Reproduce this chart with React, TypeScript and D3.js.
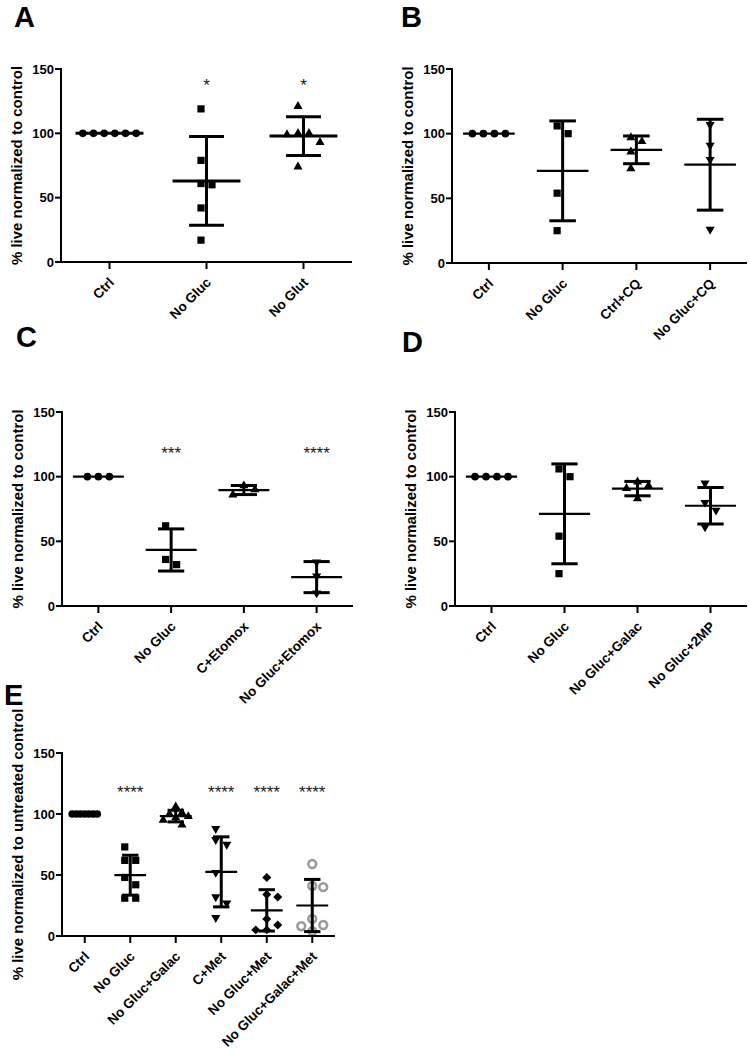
import React from "react";
import * as d3 from "d3";

// ---------- DATA ----------
const aCats = ["Ctrl", "No Gluc", "No Glut"];
const aCtrl = [100, 100, 100, 100, 100, 100];
const aNoGluc = [119, 79, 61, 60, 42, 17];
const aNoGlut = [121, 100, 99, 100, 93, 74];
const aStars = ["", "*", "*"];

const bCats = ["Ctrl", "No Gluc", "Ctrl+CQ", "No Gluc+CQ"];
const bCtrl = [100, 100, 100, 100];
const bNoGluc = [106, 100, 54, 25];
const bCtrlCQ = [97, 94, 86, 73];
const bNoGlucCQ = [107, 91, 80, 26];
const bStars = ["", "", "", ""];

const cCats = ["Ctrl", "No Gluc", "C+Etomox", "No Gluc+Etomox"];
const cCtrl = [100, 100, 100];
const cNoGluc = [62, 36, 32];
const cCEtomox = [93, 90, 86];
const cNoGlucEtomox = [34, 23, 10];
const cStars = ["", "***", "", "****"];

const dCats = ["Ctrl", "No Gluc", "No Gluc+Galac", "No Gluc+2MP"];
const dCtrl = [100, 100, 100, 100];
const dNoGluc = [106, 100, 54, 25];
const dNoGlucGalac = [96, 93, 91, 83];
const dNoGluc2MP = [95, 80, 74, 61];
const dStars = ["", "", "", ""];

const eCats = ["Ctrl", "No Gluc", "No Gluc+Galac", "C+Met", "No Gluc+Met", "No Gluc+Galac+Met"];
const eCtrl = [100, 100, 100, 100, 100, 100, 100];
const eNoGluc = [73, 62, 62, 48, 42, 31, 31];
const eNoGlucGalac = [106, 101, 100, 98, 97, 95, 91];
const eCMet = [88, 79, 75, 52, 32, 27, 15];
const eNoGlucMet = [48, 34, 32, 14, 9, 5, 5];
const eNoGlucGalacMet = [59, 41, 40, 14, 9, 8, 4];
const eStars = ["", "****", "", "****", "****", "****"];

const yTicks = [0, 50, 100, 150];

// ---------- LAYOUT ----------
const FONT = "Arial, 'Liberation Sans', Helvetica, sans-serif";
const GREY = "#9a9a9a";

type Kind = "circle" | "square" | "triangle" | "triangleDown" | "diamond" | "openCircle";

interface Panel {
  letter: string;
  lx: number;
  ly: number;
  cats: string[];
  groups: number[][];
  kinds: Kind[];
  stars: string[];
  starVal: number;
  x0: number;
  x1: number;
  yTop: number;
  yBottom: number;
  ylabel: string;
  meanW: number;
}

const panels: Panel[] = [
  {
    letter: "A", lx: 14, ly: 27, cats: aCats, groups: [aCtrl, aNoGluc, aNoGlut],
    kinds: ["circle", "square", "triangle"], stars: aStars, starVal: 140,
    x0: 61, x1: 352, yTop: 69, yBottom: 262, ylabel: "% live normalized to control", meanW: 3,
  },
  {
    letter: "B", lx: 401, ly: 27, cats: bCats, groups: [bCtrl, bNoGluc, bCtrlCQ, bNoGlucCQ],
    kinds: ["circle", "square", "triangle", "triangleDown"], stars: bStars, starVal: 140,
    x0: 452, x1: 747, yTop: 69, yBottom: 263, ylabel: "% live normalized to control", meanW: 2.2,
  },
  {
    letter: "C", lx: 16, ly: 347, cats: cCats, groups: [cCtrl, cNoGluc, cCEtomox, cNoGlucEtomox],
    kinds: ["circle", "square", "triangle", "triangleDown"], stars: cStars, starVal: 121,
    x0: 62, x1: 353, yTop: 412, yBottom: 606, ylabel: "% live normalized to control", meanW: 2.2,
  },
  {
    letter: "D", lx: 402, ly: 352, cats: dCats, groups: [dCtrl, dNoGluc, dNoGlucGalac, dNoGluc2MP],
    kinds: ["circle", "square", "triangle", "triangleDown"], stars: dStars, starVal: 121,
    x0: 455, x1: 747, yTop: 412, yBottom: 606, ylabel: "% live normalized to control", meanW: 2.2,
  },
  {
    letter: "E", lx: 4, ly: 705, cats: eCats,
    groups: [eCtrl, eNoGluc, eNoGlucGalac, eCMet, eNoGlucMet, eNoGlucGalacMet],
    kinds: ["circle", "square", "triangle", "triangleDown", "diamond", "openCircle"], stars: eStars, starVal: 121,
    x0: 62, x1: 335, yTop: 753, yBottom: 936, ylabel: "% live normalized to untreated control", meanW: 2.2,
  },
];

function markerD(kind: Kind): string {
  switch (kind) {
    case "circle": return d3.symbol(d3.symbolCircle, 46)() as string;
    case "square": return d3.symbol(d3.symbolSquare, 52)() as string;
    case "triangle": return d3.symbol(d3.symbolTriangle, 36)() as string;
    case "triangleDown": return d3.symbol(d3.symbolTriangle, 36)() as string;
    case "diamond": return d3.symbol(d3.symbolSquare, 40)() as string;
    case "openCircle": return d3.symbol(d3.symbolCircle, 48)() as string;
  }
}

function swarm(values: number[], y: (v: number) => number, maxSpan: number): number[] {
  const step = 11;
  const minDist = 10.5;
  const order = values.map((_, i) => i).sort((a, b) => values[b] - values[a]);
  const cands = [0];
  for (let k = 1; k < 20; k++) cands.push(k * step, -k * step);
  const off = new Array(values.length).fill(0);
  const placed: { x: number; y: number }[] = [];
  for (const i of order) {
    const py = y(values[i]);
    for (const c of cands) {
      if (placed.every((p) => Math.hypot(p.x - c, p.y - py) >= minDist)) {
        off[i] = c;
        placed.push({ x: c, y: py });
        break;
      }
    }
  }
  const mn = d3.min(off) as number;
  const mx = d3.max(off) as number;
  const shift = -(mn + mx) / 2;
  const span = mx - mn;
  const s = span > maxSpan ? maxSpan / span : 1;
  return off.map((o) => (o + shift) * s);
}

function PanelView({ p }: { p: Panel }) {
  const x = d3.scalePoint<string>().domain(p.cats).range([p.x0, p.x1]).padding(0.5);
  const y = d3.scaleLinear().domain([0, 150]).range([p.yBottom, p.yTop]);
  const step = x.step();
  const meanHalf = step * 0.35;
  const capHalf = step * 0.18;
  const ymid = (p.yTop + p.yBottom) / 2;

  return (
    <g>
      <text x={p.lx} y={p.ly} fontFamily={FONT} fontWeight="bold" fontSize={29} fill="#000">
        {p.letter}
      </text>

      {/* points */}
      {p.groups.map((vals, gi) => {
        const cx = x(p.cats[gi]) as number;
        const offs = swarm(vals, y, step * 0.55);
        const kind = p.kinds[gi];
        const dPath = markerD(kind);
        return (
          <g key={"pts" + gi}>
            {vals.map((v, i) => {
              const rot = kind === "triangleDown" ? " rotate(180)" : kind === "diamond" ? " rotate(45)" : "";
              return (
                <path
                  key={i}
                  d={dPath}
                  transform={`translate(${cx + offs[i]},${y(v)})${rot}`}
                  fill={kind === "openCircle" ? "none" : "#000"}
                  stroke={kind === "openCircle" ? GREY : "none"}
                  strokeWidth={kind === "openCircle" ? 2.5 : 0}
                />
              );
            })}
          </g>
        );
      })}

      {/* mean and SD */}
      {p.groups.map((vals, gi) => {
        const cx = x(p.cats[gi]) as number;
        const m = d3.mean(vals) as number;
        const sd = vals.length > 1 ? (d3.deviation(vals) as number) || 0 : 0;
        const hi = y(m + sd);
        const lo = y(m - sd);
        return (
          <g key={"bar" + gi} stroke="#000" fill="none">
            {sd > 0 && <line x1={cx} x2={cx} y1={hi} y2={lo} strokeWidth={3} />}
            {sd > 0 && <line x1={cx - capHalf} x2={cx + capHalf} y1={hi} y2={hi} strokeWidth={3} />}
            {sd > 0 && <line x1={cx - capHalf} x2={cx + capHalf} y1={lo} y2={lo} strokeWidth={3} />}
            <line x1={cx - meanHalf} x2={cx + meanHalf} y1={y(m)} y2={y(m)} strokeWidth={p.meanW} />
          </g>
        );
      })}

      {/* stars */}
      {p.stars.map((s, gi) =>
        s ? (
          <text
            key={"st" + gi}
            x={x(p.cats[gi]) as number}
            y={y(p.starVal) + 9.5}
            textAnchor="middle"
            fontFamily={FONT}
            fontSize={17}
            fill="#1a1a1a"
          >
            {s}
          </text>
        ) : null
      )}

      {/* axes */}
      <g stroke="#000" strokeWidth={2} fill="none">
        <line x1={p.x0} x2={p.x0} y1={p.yTop - 1} y2={p.yBottom + 1} />
        <line x1={p.x0 - 1} x2={p.x1} y1={p.yBottom} y2={p.yBottom} />
        {yTicks.map((t) => (
          <line key={"yt" + t} x1={p.x0 - 6} x2={p.x0} y1={y(t)} y2={y(t)} />
        ))}
        {p.cats.map((c) => (
          <line key={"xt" + c} x1={x(c) as number} x2={x(c) as number} y1={p.yBottom} y2={p.yBottom + 7} />
        ))}
      </g>
      {yTicks.map((t) => (
        <text
          key={"yl" + t}
          x={p.x0 - 7}
          y={y(t)}
          dy="0.36em"
          textAnchor="end"
          fontFamily={FONT}
          fontWeight="bold"
          fontSize={13}
          fill="#000"
        >
          {t}
        </text>
      ))}
      {p.cats.map((c) => (
        <text
          key={"xl" + c}
          transform={`translate(${(x(c) as number) + 2},${p.yBottom + 18}) rotate(-45)`}
          dy="0.35em"
          textAnchor="end"
          fontFamily={FONT}
          fontWeight="bold"
          fontSize={13.5}
          fill="#000"
        >
          {c}
        </text>
      ))}
      <text
        transform={`translate(${p.x0 - 44},${ymid}) rotate(-90)`}
        dy="0.35em"
        textAnchor="middle"
        fontFamily={FONT}
        fontWeight="bold"
        fontSize={15}
        fill="#000"
      >
        {p.ylabel}
      </text>
    </g>
  );
}

export default function App() {
  return (
    <svg
      width={750}
      height={1050}
      viewBox="0 0 750 1050"
      style={{ position: "absolute", left: 0, top: 0, background: "#fff" }}
    >
      <rect x={0} y={0} width={750} height={1050} fill="#fff" />
      {panels.map((p) => (
        <PanelView key={p.letter} p={p} />
      ))}
    </svg>
  );
}
